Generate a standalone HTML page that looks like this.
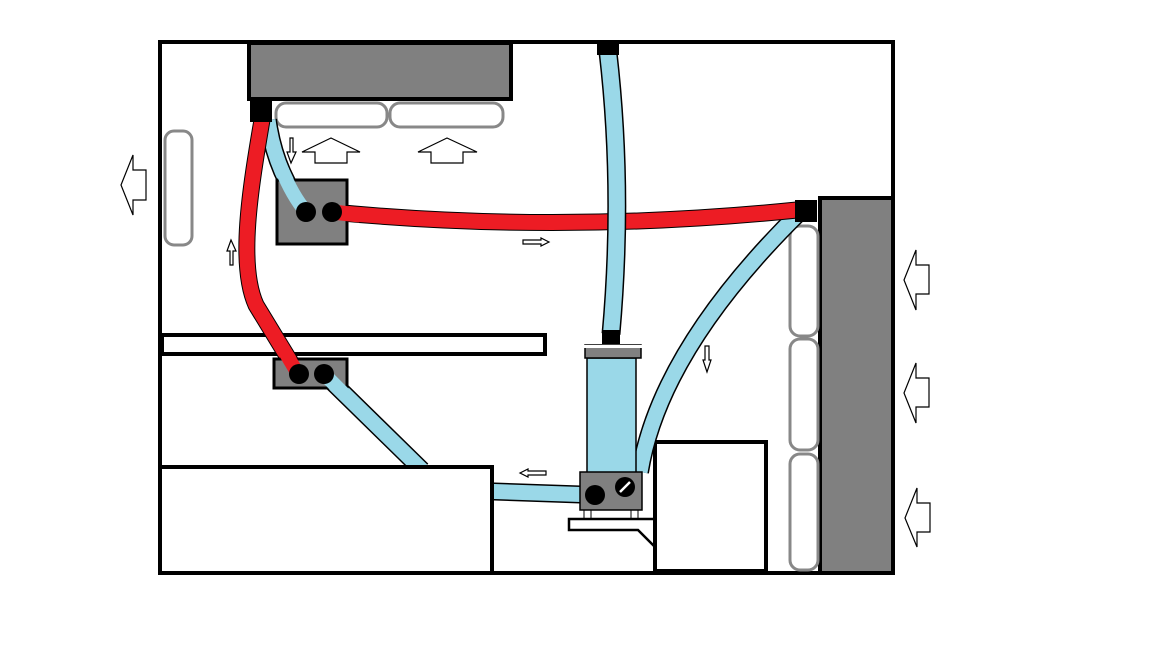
<!DOCTYPE html>
<html><head><meta charset="utf-8"><style>html,body{margin:0;padding:0;background:#fff}svg{display:block}</style></head>
<body>
<svg width="1152" height="648" viewBox="0 0 1152 648" xmlns="http://www.w3.org/2000/svg">
<rect width="1152" height="648" fill="#fff"/>
<rect x="160" y="42" width="733" height="531" fill="none" stroke="#000" stroke-width="4"/>
<rect x="249" y="43" width="262" height="56" fill="#808080" stroke="#000" stroke-width="4"/>
<rect x="276" y="103" width="111" height="24" rx="10" fill="#fff" stroke="#888" stroke-width="3"/>
<rect x="390" y="103" width="113" height="24" rx="10" fill="#fff" stroke="#888" stroke-width="3"/>
<rect x="165" y="131" width="27" height="114" rx="9" fill="#fff" stroke="#888" stroke-width="3"/>
<rect x="820" y="198" width="73" height="375" fill="#808080" stroke="#000" stroke-width="4"/>
<rect x="790" y="226" width="28" height="110" rx="10" fill="#fff" stroke="#888" stroke-width="3"/>
<rect x="790" y="339" width="28" height="111" rx="10" fill="#fff" stroke="#888" stroke-width="3"/>
<rect x="790" y="454" width="28" height="116" rx="10" fill="#fff" stroke="#888" stroke-width="3"/>
<rect x="162" y="335" width="383" height="19" fill="#fff" stroke="#000" stroke-width="4"/>
<rect x="655" y="442" width="111" height="129" fill="#fff" stroke="#000" stroke-width="4"/>
<g fill="#fff" stroke="#000" stroke-width="1.2">
<polygon points="121,185 133,155 133,170 146,170 146,200 133,200 133,215"/>
<polygon points="904,280 916,250 916,265 929,265 929,294 916,294 916,310"/>
<polygon points="904,393 916,363 916,378 929,378 929,407 916,407 916,423"/>
<polygon points="905,518 917,488 917,503 930,503 930,532 917,532 917,547"/>
<polygon points="331,138 360,152 347,152 347,163 315,163 315,152 302,152"/>
<polygon points="447,138 477,152 463,152 463,163 431,163 431,152 418,152"/>
<polygon points="291,163 287,152 290,152 290,138 293,138 293,152 296,152"/>
<polygon points="231,240 227,251 230,251 230,265 233,265 233,251 236,251"/>
<polygon points="549,242 541,238 541,240 523,240 523,244 541,244 541,246"/>
<polygon points="520,473 528,469 528,471 546,471 546,475 528,475 528,477"/>
<polygon points="707,372 703,360 705,360 705,346 709,346 709,360 711,360"/>
</g>
<g fill="none" stroke="#000" stroke-width="18">
<path d="M268,120 Q 275,172 306,212"/>
<path d="M324,374 L 422,470"/>
<path d="M800,212 Q 660,350 640,472"/>
<path d="M480,491 L 595,495"/>
</g>
<g fill="none" stroke="#9ad8e8" stroke-width="15">
<path d="M268,120 Q 275,172 306,212"/>
<path d="M324,374 L 422,470"/>
<path d="M800,212 Q 660,350 640,472"/>
<path d="M480,491 L 595,495"/>
</g>
<g fill="none" stroke="#000" stroke-width="17">
<path d="M262,120 C 250,190 238,265 256,305 L 298,374"/>
<path d="M332,212 Q 560,234 797,210"/>
</g>
<g fill="none" stroke="#ed1c24" stroke-width="15">
<path d="M262,120 C 250,190 238,265 256,305 L 298,374"/>
<path d="M332,212 Q 560,234 797,210"/>
</g>
<path d="M608,52 Q 624,190 611,334" fill="none" stroke="#000" stroke-width="19"/>
<path d="M608,52 Q 624,190 611,334" fill="none" stroke="#9ad8e8" stroke-width="16"/>
<rect x="277" y="180" width="70" height="64" fill="#808080" stroke="#000" stroke-width="3"/>
<rect x="274" y="359" width="73" height="29" fill="#808080" stroke="#000" stroke-width="3"/>
<path d="M282,170 Q 292,195 306,212" fill="none" stroke="#9ad8e8" stroke-width="14"/>
<path d="M332,212 L 360,215" fill="none" stroke="#ed1c24" stroke-width="15"/>
<path d="M285,352 L 298,374" fill="none" stroke="#ed1c24" stroke-width="14"/>
<path d="M324,374 L 345,395" fill="none" stroke="#9ad8e8" stroke-width="14"/>
<g fill="#000">
<circle cx="306" cy="212" r="10"/><circle cx="332" cy="212" r="10"/>
<circle cx="299" cy="374" r="10"/><circle cx="324" cy="374" r="10"/>
</g>
<rect x="160" y="467" width="332" height="106" fill="#fff" stroke="#000" stroke-width="4"/>
<rect x="597" y="40" width="22" height="15" fill="#000"/>
<rect x="250" y="101" width="22" height="21" fill="#000"/>
<rect x="795" y="200" width="22" height="22" fill="#000"/>
<rect x="602" y="330" width="18" height="14" fill="#000"/>
<rect x="587" y="358" width="49" height="116" fill="#9ad8e8" stroke="#000" stroke-width="1.5"/>
<rect x="585" y="345" width="56" height="13" fill="#808080" stroke="#000" stroke-width="1.5"/>
<rect x="584" y="345" width="58" height="3" fill="#fff"/>
<rect x="580" y="472" width="62" height="38" fill="#808080" stroke="#000" stroke-width="1.5"/>
<circle cx="595" cy="495" r="10" fill="#000"/>
<circle cx="625" cy="487" r="10" fill="#000"/>
<line x1="620" y1="492" x2="630" y2="482" stroke="#fff" stroke-width="2.5"/>
<line x1="584" y1="510" x2="584" y2="519" stroke="#000" stroke-width="1"/>
<line x1="591" y1="510" x2="591" y2="519" stroke="#000" stroke-width="1"/>
<line x1="631" y1="510" x2="631" y2="519" stroke="#000" stroke-width="1"/>
<line x1="638" y1="510" x2="638" y2="519" stroke="#000" stroke-width="1"/>
<path d="M653,519 L 569,519 L 569,530 L 638,530 L 654,546" fill="none" stroke="#000" stroke-width="2.5"/>
</svg>
</body></html>
